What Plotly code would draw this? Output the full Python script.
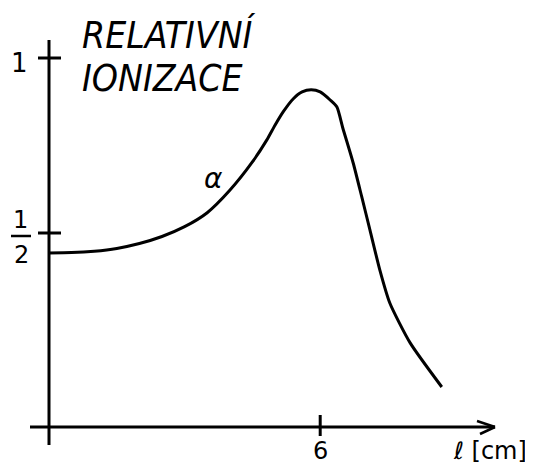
import plotly.graph_objects as go

# ---- data ----
range_cm = [0.0, 0.5, 1.0, 1.5, 2.0, 2.5, 3.0, 3.5, 4.0, 4.5, 4.82, 5.0, 5.18, 5.4, 5.6, 5.8, 6.0, 6.22, 6.37, 6.5, 6.73, 6.92, 7.1, 7.32, 7.54, 7.99, 8.69]
ionization = [0.443, 0.444, 0.448, 0.456, 0.47, 0.49, 0.518, 0.558, 0.622, 0.703, 0.766, 0.808, 0.846, 0.883, 0.903, 0.909, 0.903, 0.88, 0.86, 0.80, 0.70, 0.603, 0.509, 0.394, 0.30, 0.186, 0.06]

y_tick_vals = [0.5, 1.0]
y_tick_labels = ["1/2", "1"]
x_tick_vals = [6]
x_tick_labels = ["6"]

title_lines = ["RELATIVNÍ", "IONIZACE"]
x_label = "ℓ [cm]"
curve_label = "α"

# page body has an 8px margin; figure fills the rest of the 533x465 window
OFF = 8
W, H = 533 - OFF, 465 - OFF
PX_PER_CM = 45.2
PX_PER_UNIT = 350.0
X0_PX = 49 - OFF      # pixel of x = 0 inside the figure
Y0_PX = 408 - OFF     # pixel of y = 0 inside the figure


def fx(px):
    """window pixel -> x data"""
    return (px - OFF - X0_PX) / PX_PER_CM


def fy(py):
    """window pixel -> y data"""
    return (Y0_PX - (py - OFF)) / PX_PER_UNIT


X_RANGE = [-X0_PX / PX_PER_CM, (W - X0_PX) / PX_PER_CM]
Y_RANGE = [(Y0_PX - H) / PX_PER_UNIT, Y0_PX / PX_PER_UNIT]

LINE = dict(color="black", width=3)

fig = go.Figure()
fig.add_trace(go.Scatter(x=range_cm, y=ionization, mode="lines",
                         line=dict(color="black", width=3, shape="spline", smoothing=0.6),
                         hoverinfo="skip", showlegend=False))

shapes = []
# axes
AX_Y = fy(427)
shapes.append(dict(type="line", xref="x", yref="y", x0=0, x1=0, y0=fy(445), y1=fy(40), line=LINE))
shapes.append(dict(type="line", xref="x", yref="y", x0=fx(30), x1=fx(495), y0=AX_Y, y1=AX_Y, line=LINE))
# arrow head
shapes.append(dict(type="line", xref="x", yref="y", x0=fx(477), x1=fx(495), y0=fy(421), y1=AX_Y, line=dict(color="black", width=2.5)))
shapes.append(dict(type="line", xref="x", yref="y", x0=fx(480), x1=fx(495), y0=fy(434), y1=AX_Y, line=dict(color="black", width=2.5)))

annotations = []
num_font = dict(size=24, family="DejaVu Sans", color="black")
# y ticks
for v, lab in zip(y_tick_vals, y_tick_labels):
    shapes.append(dict(type="line", xref="x", yref="y", x0=fx(38), x1=fx(61), y0=v, y1=v, line=LINE))
    if "/" in lab:
        num, den = lab.split("/")
        annotations.append(dict(xref="x", yref="y", x=fx(20), y=fy(220), text=num, showarrow=False, font=num_font))
        annotations.append(dict(xref="x", yref="y", x=fx(21), y=fy(255), text=den, showarrow=False, font=num_font))
        shapes.append(dict(type="line", xref="x", yref="y", x0=fx(11), x1=fx(31), y0=fy(236), y1=fy(236),
                           line=dict(color="black", width=2.5)))
    else:
        annotations.append(dict(xref="x", yref="y", x=fx(19), y=fy(63), text=lab, showarrow=False,
                                font=dict(size=26, family="DejaVu Sans", color="black")))
# x ticks
for v, lab in zip(x_tick_vals, x_tick_labels):
    shapes.append(dict(type="line", xref="x", yref="y", x0=v, x1=v, y0=fy(415), y1=fy(436), line=LINE))
    annotations.append(dict(xref="x", yref="y", x=v, y=fy(451), text=lab, showarrow=False, font=num_font))

annotations.append(dict(xref="x", yref="y", x=fx(490), y=fy(451), text=x_label, showarrow=False,
                        font=dict(size=24, family="DejaVu Sans", color="black")))
annotations.append(dict(xref="x", yref="y", x=fx(213), y=fy(178), text=curve_label, showarrow=False,
                        font=dict(size=28, family="DejaVu Sans", color="black", style="italic")))

title_font = dict(size=37, family="Liberation Sans Narrow, DejaVu Sans Condensed, Roboto, sans-serif",
                  color="black", style="italic", weight=300)
annotations.append(dict(xref="x", yref="y", x=fx(80), y=fy(35), text=title_lines[0], showarrow=False,
                        xanchor="left", yanchor="middle", font=title_font))
annotations.append(dict(xref="x", yref="y", x=fx(80), y=fy(78), text=title_lines[1], showarrow=False,
                        xanchor="left", yanchor="middle", font=title_font))

fig.update_layout(
    width=W, height=H,
    margin=dict(l=0, r=0, t=0, b=0),
    paper_bgcolor="white", plot_bgcolor="white",
    xaxis=dict(range=X_RANGE, visible=False, fixedrange=True),
    yaxis=dict(range=Y_RANGE, visible=False, fixedrange=True),
    shapes=shapes, annotations=annotations, showlegend=False,
)

fig.write_html("out.html")
